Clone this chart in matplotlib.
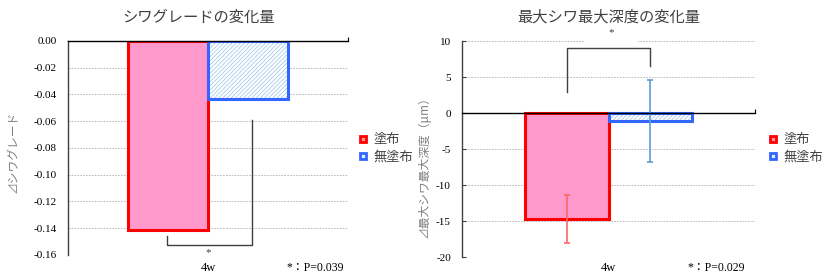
import matplotlib
matplotlib.use("Agg")
import matplotlib.pyplot as plt
from matplotlib.lines import Line2D
from matplotlib.patches import Rectangle

plt.rcParams['font.family'] = ['Noto Sans CJK JP', 'DejaVu Sans']
plt.rcParams['hatch.linewidth'] = 0.6

# ---- data ----
groups = ['塗布', '無塗布']
category = '4w'
grade_vals = [-0.141, -0.043]
depth_vals = [-14.7, -1.1]
depth_err = [3.3, 5.7]
grade_ticks = [0.00, -0.02, -0.04, -0.06, -0.08, -0.10, -0.12, -0.14, -0.16]
grade_ticklabels = ['0.00', '-0.02', '-0.04', '-0.06', '-0.08', '-0.10', '-0.12', '-0.14', '-0.16']
depth_ticks = [10, 5, 0, -5, -10, -15, -20]
depth_ticklabels = ['10', '5', '0', '-5', '-10', '-15', '-20']
titles = ['シワグレードの変化量', '最大シワ最大深度の変化量']
ylabels = ['⊿シワグレード', '⊿最大シワ最大深度（μm）']
pnotes = ['*：P=0.039', '*：P=0.029']

RED_FACE = '#FF99CC'
RED_EDGE = '#FF0000'
BLUE_EDGE = '#3366FF'
BLUE_HATCH = '#A8CCEC'
SERIF = ['Liberation Serif', 'Noto Sans CJK JP']
TXT = '#404040'

fig = plt.figure(figsize=(8.25, 2.8), dpi=100)
ax1 = fig.add_axes([0.0824, 0.0893, 0.3394, 0.7643])
ax2 = fig.add_axes([0.5600, 0.0821, 0.3552, 0.7714])

W = 0.571

def draw_bars(ax, vals, err=None):
    ax.bar([-W], [vals[0]], width=W, align='edge', color=RED_FACE,
           edgecolor=RED_EDGE, linewidth=2.2, zorder=3)
    ax.bar([0], [vals[1]], width=W, align='edge', color='white',
           edgecolor=BLUE_HATCH, hatch='////////', linewidth=0, zorder=3)
    ax.bar([0], [vals[1]], width=W, align='edge', color='none',
           edgecolor=BLUE_EDGE, linewidth=2.2, zorder=4)
    if err is not None:
        ax.errorbar([-W / 2], [vals[0]], yerr=[err[0]], fmt='none',
                    ecolor='#FF6666', elinewidth=1.2, capsize=2.5, capthick=1.2, zorder=5)
        ax.errorbar([W / 2], [vals[1]], yerr=[err[1]], fmt='none',
                    ecolor='#5B9BD5', elinewidth=1.2, capsize=2.5, capthick=1.2, zorder=5)

def style_axes(ax, ticks, ticklabels, tick_len):
    ax.set_xlim(-1, 1)
    ax.set_ylim(min(ticks), max(ticks))
    ax.set_yticks(ticks)
    ax.set_yticklabels(ticklabels, family=SERIF, fontsize=8, color='black')
    ax.yaxis.grid(True, linestyle=(0, (2, 1.5)), color='#B0B0B0', linewidth=0.6, zorder=0)
    ax.set_axisbelow(True)
    for s in ['top', 'right']:
        ax.spines[s].set_visible(False)
    ax.spines['left'].set_color(TXT)
    ax.spines['left'].set_linewidth(1.0)
    ax.spines['bottom'].set_position(('data', 0))
    ax.spines['bottom'].set_color('black')
    ax.spines['bottom'].set_linewidth(1.0)
    ax.spines['bottom'].set_zorder(6)
    ax.set_xticks([1])
    ax.set_xticklabels([''])
    ax.tick_params(axis='x', direction='in', length=3, color='black')
    ax.tick_params(axis='y', direction='in', length=tick_len, color=TXT, pad=8)

# ---- left chart ----
draw_bars(ax1, grade_vals)
style_axes(ax1, grade_ticks, grade_ticklabels, 0)
ax1.set_title(titles[0], fontsize=11, color=TXT, pad=14, x=0.465)
ax1.set_ylabel(ylabels[0], fontsize=8.5, color='#808080')
ax1.yaxis.set_label_coords(-0.175, 0.48)
ax1.plot([-0.293, -0.293, 0.314, 0.314], [-0.1458, -0.1525, -0.1525, -0.059],
         color=TXT, linewidth=1.0, zorder=5, clip_on=False)
ax1.text(0.0, -0.158, '*', family=SERIF, fontsize=8, ha='center', va='center', color=TXT)
ax1.text(0.5, -0.06, category, transform=ax1.transAxes, family=SERIF, fontsize=9,
         ha='center', va='center')
ax1.text(0.985, -0.06, pnotes[0], transform=ax1.transAxes, family=SERIF, fontsize=8.5,
         ha='right', va='center')

# ---- right chart ----
draw_bars(ax2, depth_vals, depth_err)
style_axes(ax2, depth_ticks, depth_ticklabels, 3)
ax2.set_title(titles[1], fontsize=11, color=TXT, pad=14)
ax2.set_ylabel(ylabels[1], fontsize=8.5, color='#808080')
ax2.yaxis.set_label_coords(-0.105, 0.43)
ax2.add_patch(Rectangle((-0.16, 9.5), 0.36, 3.5, facecolor='white', edgecolor='none',
                        zorder=1.5, clip_on=False))
ax2.plot([-0.283, -0.283, 0.283, 0.283], [2.9, 9.0, 9.0, 6.5],
         color=TXT, linewidth=1.0, zorder=5, clip_on=False)
ax2.text(0.02, 11.1, '*', family=SERIF, fontsize=8, ha='center', va='center',
         color=TXT, zorder=6)
ax2.text(0.5, -0.05, category, transform=ax2.transAxes, family=SERIF, fontsize=9,
         ha='center', va='center')
ax2.text(0.965, -0.05, pnotes[1], transform=ax2.transAxes, family=SERIF, fontsize=8.5,
         ha='right', va='center')

# ---- legends ----
handles = [
    Line2D([], [], linestyle='none', marker='s', markersize=5, markerfacecolor='#FF99AA',
           markeredgecolor=RED_EDGE, markeredgewidth=2),
    Line2D([], [], linestyle='none', marker='s', markersize=5, markerfacecolor='#DDEEFF',
           markeredgecolor=BLUE_EDGE, markeredgewidth=2),
]
for xanchor in [0.425, 0.922]:
    fig.legend(handles, groups, loc='center left', bbox_to_anchor=(xanchor, 0.47),
               frameon=False, fontsize=9.5, handlelength=0.8, handletextpad=0.4,
               labelspacing=0.3, labelcolor=TXT, borderpad=0)

fig.savefig('out.png', dpi=100)
